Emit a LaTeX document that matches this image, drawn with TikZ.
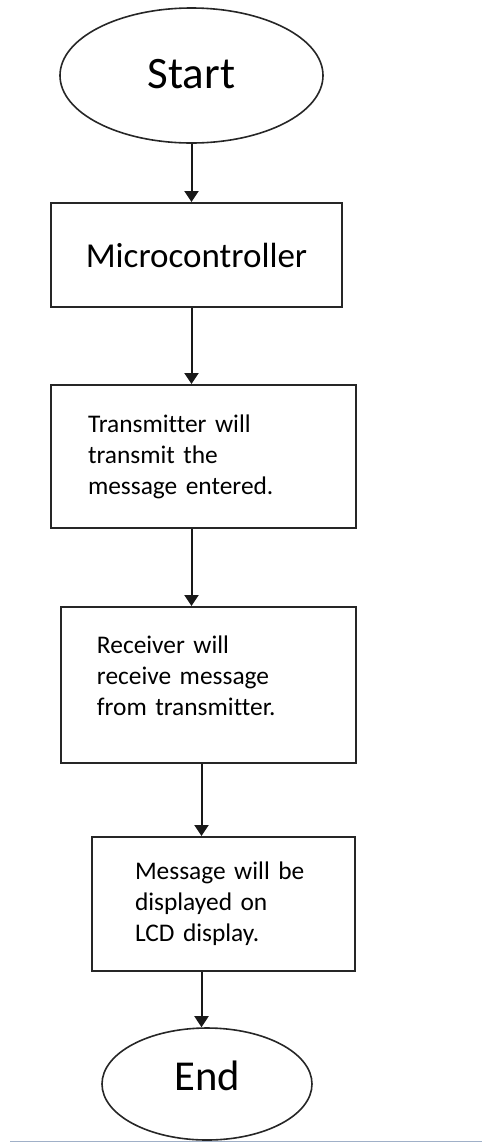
\documentclass[tikz,border=0pt]{standalone}
\usepackage{fontspec}
\setmainfont{Carlito}[Ligatures=NoCommon]
\usetikzlibrary{shapes.geometric,arrows.meta}
\begin{document}
\begin{tikzpicture}[x=0.5pt,y=-0.5pt,line width=1pt,
  terminal/.style={ellipse,draw=black!85,line width=0.8pt,inner sep=0pt,font=\fontsize{22.5}{24}\selectfont},
  stepbox/.style={rectangle,draw=black!85,inner ysep=0pt,align=left,font=\fontsize{12.7}{15.5}\selectfont},
  flow/.style={-{Triangle[length=5.5pt,width=7pt]},black!90}]
\useasboundingbox (0,0) rectangle (482,1142);
\node[terminal,minimum width=131.5pt,minimum height=67.5pt,text depth=2pt] (start) at (191.5,75.5) {Start};
\node[stepbox,minimum width=145.5pt,minimum height=52pt,align=center,font=\fontsize{17.5}{20}\selectfont] (micro) at (196.5,255) {Microcontroller};
\node[stepbox,text width=115.5pt,inner xsep=18.5pt,minimum height=71.5pt] (tx) at (203.5,456.5) {Transmitter will\\transmit the\\message entered.};
\node[stepbox,text width=111.5pt,inner xsep=18pt,minimum height=78pt,text depth=40pt] (rx) at (208.5,685) {Receiver will\\receive message\\from transmitter.};
\node[stepbox,text width=88.5pt,inner xsep=21.5pt,minimum height=67pt] (lcd) at (223.5,904) {Message will be\\displayed on\\LCD display.};
\node[terminal,minimum width=105pt,minimum height=56pt,text depth=8pt,font=\fontsize{21.3}{24}\selectfont] (end) at (207,1084) {End};
\coordinate (lane) at (201.5,0);
\draw[flow] (start.south) -- (micro.north -| start.south);
\draw[flow] (micro.south -| start.south) -- (tx.north -| start.south);
\draw[flow] (tx.south -| start.south) -- (rx.north -| start.south);
\draw[flow] (rx.south -| lane) -- (lcd.north -| lane);
\draw[flow] (lcd.south -| lane) -- (end.north -| lane);
\draw[line width=0.5pt,color={rgb,255:red,160;green,176;blue,200}] (10,1141) -- (482,1141);
\end{tikzpicture}
\end{document}
